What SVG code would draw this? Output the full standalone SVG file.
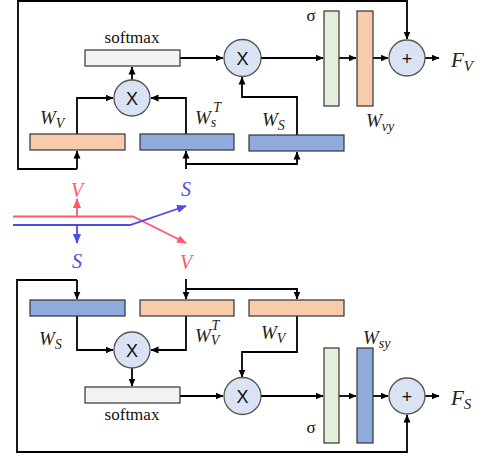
<svg xmlns="http://www.w3.org/2000/svg" width="485" height="459" viewBox="0 0 485 459">
<style>
.box{stroke:#333;stroke-width:1.2}
.peach{fill:#F8CBAD}
.blue{fill:#8FAADC}
.grey{fill:#F2F2F2}
.green{fill:#E2EFDA}
.circ{fill:#DAE3F3;stroke:#555;stroke-width:1.3}
.op{font-family:"Liberation Sans",Arial,sans-serif;font-size:18px;text-anchor:middle;fill:#111}
.sm{font-family:"Liberation Serif","Times New Roman",serif;font-size:17px;text-anchor:middle;fill:#111}
.m{font-family:"Liberation Serif","Times New Roman",serif;font-style:italic;font-size:19px;fill:#222}
.ms{font-size:14px}
.c{fill:none;stroke:#000;stroke-width:1.8}
.r{fill:none;stroke:#FF5A6A;stroke-width:1.8}
.b{fill:none;stroke:#4B4BE8;stroke-width:1.8}
</style>
<defs>
<marker id="ah" markerUnits="userSpaceOnUse" markerWidth="8" markerHeight="8" refX="7.5" refY="4" orient="auto"><path d="M0,0.5 L8,4 L0,7.5 z" fill="#000"/></marker>
<marker id="ahr" markerUnits="userSpaceOnUse" markerWidth="10" markerHeight="10" refX="9" refY="5" orient="auto"><path d="M0,1 L10,5 L0,9 z" fill="#FF5A6A"/></marker>
<marker id="ahb" markerUnits="userSpaceOnUse" markerWidth="10" markerHeight="10" refX="9" refY="5" orient="auto"><path d="M0,1 L10,5 L0,9 z" fill="#4B4BE8"/></marker>
</defs>

<g id="connectors">
<path class="c" d="M77,169 L77,151" marker-end="url(#ah)"/>
<path class="c" d="M77,169 L18,169 L18,1 L407,1 L407,39" marker-end="url(#ah)"/>
<path class="c" d="M77,134 L77,98 L113,98" marker-end="url(#ah)"/>
<path class="c" d="M186,134 L186,98 L151,98" marker-end="url(#ah)"/>
<path class="c" d="M132,80 L132,67" marker-end="url(#ah)"/>
<path class="c" d="M180,58 L223,58" marker-end="url(#ah)"/>
<path class="c" d="M297,135 L297,97 L242,97 L242,77" marker-end="url(#ah)"/>
<path class="c" d="M186,169 L186,151" marker-end="url(#ah)"/>
<path class="c" d="M186,164 L297,164 L297,152" marker-end="url(#ah)"/>
<path class="c" d="M261,58 L323,58" marker-end="url(#ah)"/>
<path class="c" d="M339,58 L356,58" marker-end="url(#ah)"/>
<path class="c" d="M373,58 L388,58" marker-end="url(#ah)"/>
<path class="c" d="M425,58 L439,58" marker-end="url(#ah)"/>
<path class="c" d="M77,280 L77,299" marker-end="url(#ah)"/>
<path class="c" d="M77,280 L17,280 L17,452 L407,452 L407,415" marker-end="url(#ah)"/>
<path class="c" d="M77,316 L77,350 L113,350" marker-end="url(#ah)"/>
<path class="c" d="M186,316 L186,350 L151,350" marker-end="url(#ah)"/>
<path class="c" d="M132,368 L132,386" marker-end="url(#ah)"/>
<path class="c" d="M180,396 L223,396" marker-end="url(#ah)"/>
<path class="c" d="M297,316 L297,352 L242,352 L242,377" marker-end="url(#ah)"/>
<path class="c" d="M186,279 L186,299" marker-end="url(#ah)"/>
<path class="c" d="M186,289 L297,289 L297,299" marker-end="url(#ah)"/>
<path class="c" d="M261,396 L323,396" marker-end="url(#ah)"/>
<path class="c" d="M339,396 L356,396" marker-end="url(#ah)"/>
<path class="c" d="M373,396 L388,396" marker-end="url(#ah)"/>
<path class="c" d="M425,396 L439,396" marker-end="url(#ah)"/>
<path class="r" d="M13,216.5 L133,216.5 L186,243" marker-end="url(#ahr)"/>
<path class="b" d="M13,225 L130,225 L186,206" marker-end="url(#ahb)"/>
<path class="r" d="M77,216.5 L77,199" marker-end="url(#ahr)"/>
<path class="b" d="M77,225 L77,243" marker-end="url(#ahb)"/>
</g>

<g id="top-Wv"><rect class="box peach" x="30" y="134" width="95" height="16"/><text class="m" x="40" y="124">W<tspan class="ms" dy="4">V</tspan></text></g>
<g id="top-WsT"><rect class="box blue" x="140" y="134" width="94" height="16"/><text class="m" x="195" y="124">W<tspan class="ms" dy="3">s</tspan><tspan class="ms" dx="-3" dy="-15">T</tspan></text></g>
<g id="top-Ws"><rect class="box blue" x="249" y="135" width="95" height="16"/><text class="m" x="262" y="126">W<tspan class="ms" dy="4">S</tspan></text></g>
<g id="top-softmax"><rect class="box grey" x="85" y="50" width="95" height="16"/><text class="sm" x="132" y="43">softmax</text></g>
<g id="top-mul1"><circle class="circ" cx="132" cy="98" r="18"/><text class="op" x="132" y="104.5">X</text></g>
<g id="top-mul2"><circle class="circ" cx="242.5" cy="58" r="18.5"/><text class="op" x="242.5" y="64.5">X</text></g>
<g id="top-sigma"><rect class="box green" x="324" y="11" width="15" height="95"/><text class="sm" x="311" y="21">σ</text></g>
<g id="top-Wvy"><rect class="box peach" x="357" y="11" width="16" height="95"/><text class="m" x="366" y="127">W<tspan class="ms" dy="4">vy</tspan></text></g>
<g id="top-plus"><circle class="circ" cx="407" cy="58" r="18"/><text class="op" x="407" y="64.5">+</text></g>
<g id="top-Fv"><text class="m" x="451" y="67" style="font-size:21px">F<tspan class="ms" dy="4" style="font-size:15px">V</tspan></text></g>

<g id="mid-labels">
<text class="m" x="77" y="197" text-anchor="middle" style="fill:#FF5A6A;font-size:20px">V</text>
<text class="m" x="186" y="196" text-anchor="middle" style="fill:#4B4BE8;font-size:20px">S</text>
<text class="m" x="77" y="268" text-anchor="middle" style="fill:#4B4BE8;font-size:20px">S</text>
<text class="m" x="186" y="269" text-anchor="middle" style="fill:#FF5A6A;font-size:20px">V</text>
</g>

<g id="bot-Ws"><rect class="box blue" x="30" y="300" width="95" height="16"/><text class="m" x="39" y="345">W<tspan class="ms" dy="4">S</tspan></text></g>
<g id="bot-WvT"><rect class="box peach" x="140" y="300" width="94" height="16"/><text class="m" x="195" y="342">W<tspan class="ms" dy="3">V</tspan><tspan class="ms" dx="-8" dy="-15">T</tspan></text></g>
<g id="bot-Wv"><rect class="box peach" x="249" y="300" width="95" height="16"/><text class="m" x="261" y="339">W<tspan class="ms" dy="4">V</tspan></text></g>
<g id="bot-softmax"><rect class="box grey" x="85" y="387" width="95" height="16"/><text class="sm" x="132" y="420">softmax</text></g>
<g id="bot-mul1"><circle class="circ" cx="132" cy="350" r="18"/><text class="op" x="132" y="356.5">X</text></g>
<g id="bot-mul2"><circle class="circ" cx="242.5" cy="396" r="18.5"/><text class="op" x="242.5" y="402.5">X</text></g>
<g id="bot-sigma"><rect class="box green" x="324" y="348" width="15" height="95"/><text class="sm" x="311" y="433">σ</text></g>
<g id="bot-Wsy"><rect class="box blue" x="357" y="348" width="16" height="95"/><text class="m" x="363" y="344">W<tspan class="ms" dy="4">sy</tspan></text></g>
<g id="bot-plus"><circle class="circ" cx="407" cy="396" r="18"/><text class="op" x="407" y="402.5">+</text></g>
<g id="bot-Fs"><text class="m" x="451" y="405" style="font-size:21px">F<tspan class="ms" dy="4" style="font-size:15px">S</tspan></text></g>
</svg>
